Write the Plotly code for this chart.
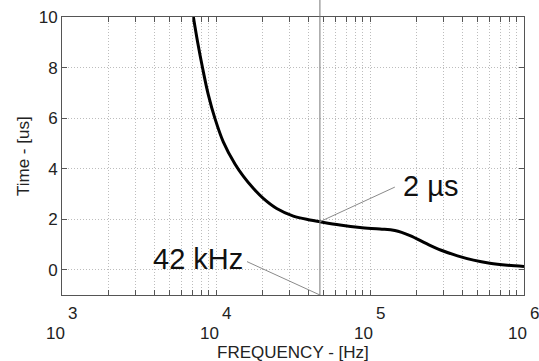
import math
import plotly.graph_objects as go

# Curve data (frequency in Hz, time in us)
freq_hz = [7130, 7600, 8200, 8900, 9860, 11150, 13280, 15030, 17460, 20270, 24780, 31770,
           40740, 47290, 63800, 86100, 116000, 145000, 182000, 233000, 290000,
           370000, 470000, 600000, 780000, 1000000]
time_us = [10.0, 9.0, 7.95, 6.94, 5.97, 5.06, 4.18, 3.70, 3.22, 2.82, 2.42, 2.12,
           1.97, 1.90, 1.77, 1.67, 1.61, 1.55, 1.35, 1.03, 0.77,
           0.55, 0.38, 0.26, 0.18, 0.13]

# Marker / annotation data
marker_freq = 47290
label_freq_text = "42 kHz"
label_time_text = "2 µs"
label_freq_line_x = [15900, 47290]
label_freq_line_y = [0.32, -1.0]
label_time_line_x = [47290, 145000]
label_time_line_y = [1.90, 3.27]

decades = [3, 4, 5, 6]
y_ticks = [0, 2, 4, 6, 8, 10]

FONT = "Liberation Sans, Arial, Helvetica, sans-serif"
AX_COLOR = "#555555"
GRID_COLOR = "#bdbdbd"
TXT = "#222222"

fig = go.Figure()

fig.add_trace(go.Scatter(
    x=freq_hz, y=time_us, mode="lines",
    line=dict(color="black", width=3, shape="spline", smoothing=1.0),
    hoverinfo="skip", showlegend=False))

fig.add_trace(go.Scatter(
    x=label_freq_line_x, y=label_freq_line_y, mode="lines",
    line=dict(color="#8a8a8a", width=1), showlegend=False, hoverinfo="skip"))
fig.add_trace(go.Scatter(
    x=label_time_line_x, y=label_time_line_y, mode="lines",
    line=dict(color="#8a8a8a", width=1), showlegend=False, hoverinfo="skip"))

# vertical marker line extending above plot
fig.add_shape(type="line", xref="x", yref="paper",
              x0=marker_freq, x1=marker_freq, y0=0, y1=1.07,
              line=dict(color="#777777", width=1))

minor_vals = []
for d in range(3, 6):
    for m in range(1, 10):
        minor_vals.append(m * 10 ** d)
minor_vals.append(10 ** 6)

fig.update_xaxes(
    type="log", range=[3, 6],
    tickvals=minor_vals, ticktext=[""] * len(minor_vals),
    showticklabels=False,
    ticks="inside", ticklen=5, tickcolor=AX_COLOR,
    showgrid=True, gridcolor=GRID_COLOR, griddash="1px,2px", gridwidth=1,
    showline=True, linecolor=AX_COLOR, linewidth=1, mirror="ticks",
    zeroline=False, automargin=False,
)
fig.update_yaxes(
    range=[-1, 10], tickvals=y_ticks,
    ticks="inside", ticklen=5, tickcolor=AX_COLOR,
    tickfont=dict(size=17, color=TXT, family=FONT),
    showgrid=True, gridcolor=GRID_COLOR, griddash="1px,2px", gridwidth=1,
    showline=True, linecolor=AX_COLOR, linewidth=1, mirror="ticks",
    zeroline=False, automargin=False,
)

# Axis titles
fig.add_annotation(x=0.5, y=-0.2086, xref="paper", yref="paper",
                   text="FREQUENCY - [Hz]", showarrow=False,
                   xanchor="center", yanchor="middle", borderpad=0,
                   font=dict(size=17, color=TXT, family=FONT))
fig.add_annotation(x=0, y=0.5, xref="paper", yref="paper",
                   text="Time - [us]", showarrow=False, textangle=-90,
                   xanchor="center", yanchor="middle", xshift=-39,
                   font=dict(size=17, color=TXT, family=FONT))

# MATLAB-style x tick labels: "10" with exponent above-right
for d in decades:
    fig.add_annotation(x=d, y=0, xref="x", yref="paper", text="10",
                       showarrow=False, xanchor="right", yanchor="middle",
                       xshift=4, yshift=-38, borderpad=0,
                       font=dict(size=17, color=TXT, family=FONT))
    fig.add_annotation(x=d, y=0, xref="x", yref="paper", text=str(d),
                       showarrow=False, xanchor="left", yanchor="middle",
                       xshift=5, yshift=-18, borderpad=0,
                       font=dict(size=17, color=TXT, family=FONT))

fig.add_annotation(x=math.log10(label_freq_line_x[0]), y=0.44, xref="x", yref="y",
                   text=label_freq_text, showarrow=False, xanchor="right", yanchor="middle",
                   xshift=-2, font=dict(size=29, color="#111", family=FONT))
fig.add_annotation(x=math.log10(label_time_line_x[1]), y=3.3, xref="x", yref="y",
                   text=label_time_text, showarrow=False, xanchor="left", yanchor="middle",
                   xshift=6, font=dict(size=29, color="#111", family=FONT))

fig.update_layout(
    width=539, height=361,
    margin=dict(l=62, r=15, t=17, b=66),
    paper_bgcolor="white", plot_bgcolor="white",
    font=dict(family=FONT, color=TXT),
    showlegend=False,
)

fig.write_html("out.html")
